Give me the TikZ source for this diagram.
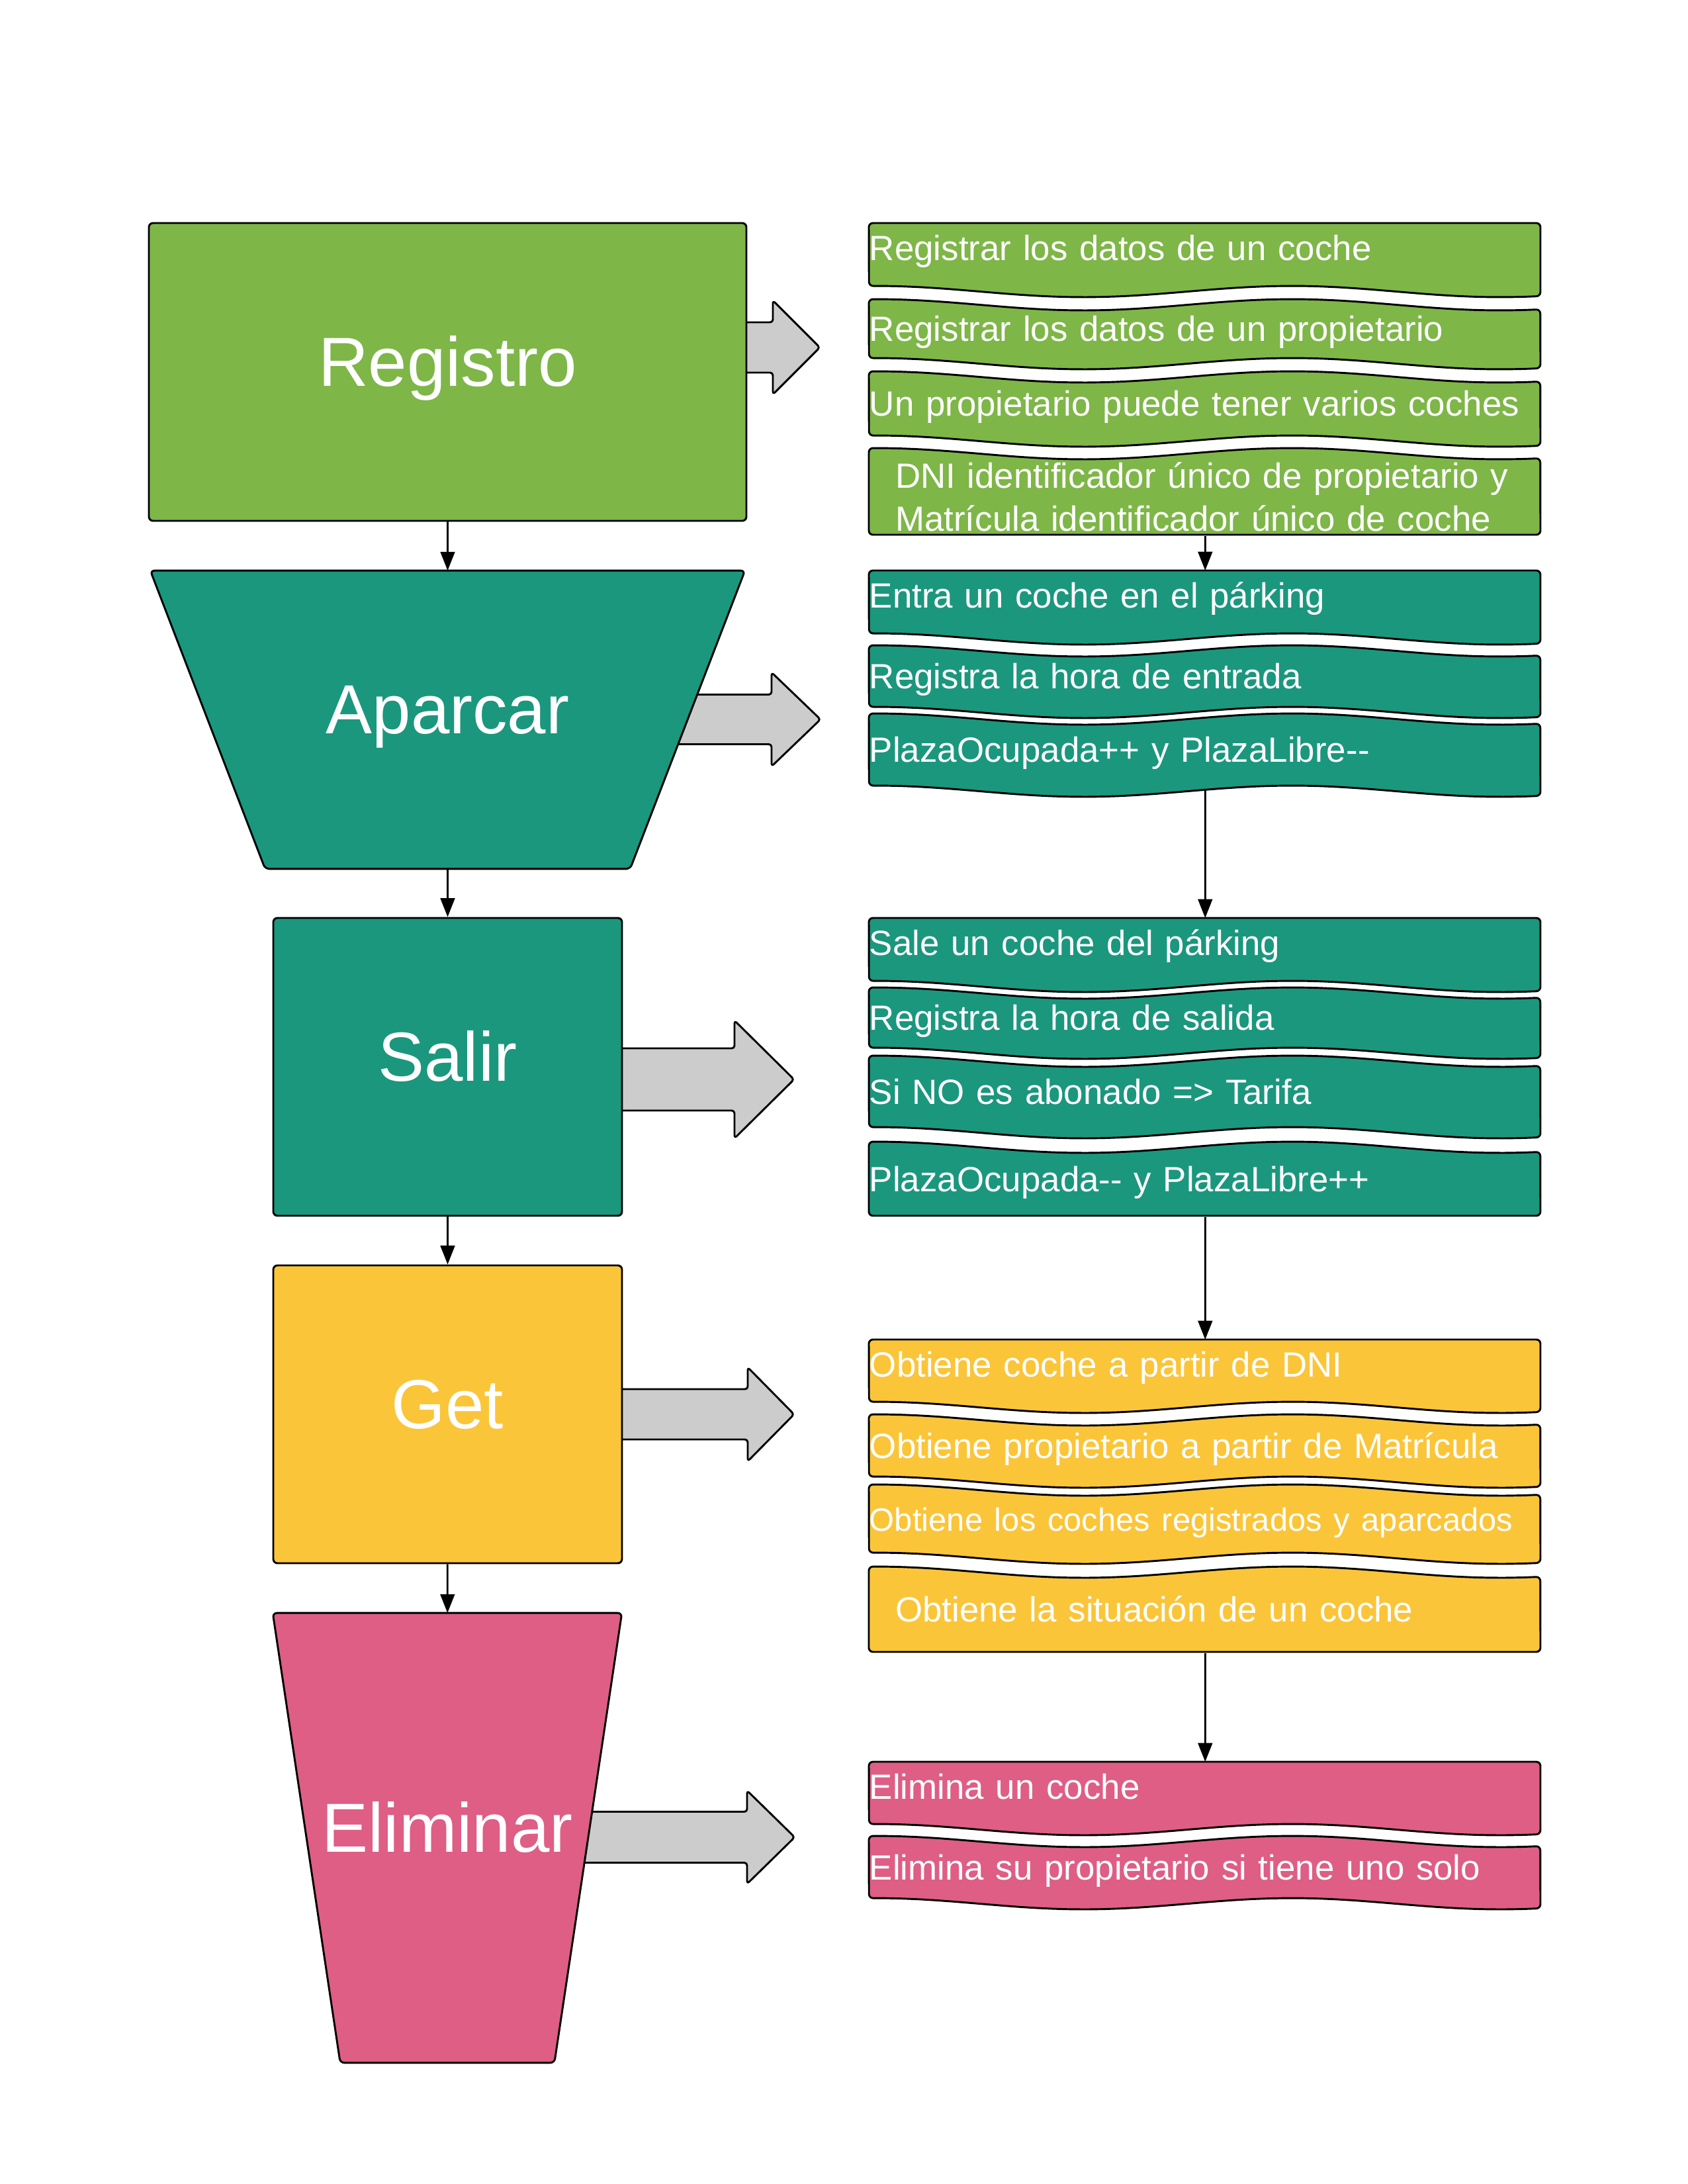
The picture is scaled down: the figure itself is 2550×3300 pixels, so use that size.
\documentclass[tikz,border=0pt]{standalone}
\usepackage{fontspec}
\setmainfont{Liberation Sans}
\usetikzlibrary{arrows.meta,backgrounds}

\definecolor{regcol}{RGB}{126,182,72}
\definecolor{parkcol}{RGB}{27,151,126}
\definecolor{getcol}{RGB}{251,197,58}
\definecolor{delcol}{RGB}{222,94,133}
\definecolor{arrowgrey}{RGB}{204,204,204}

% one pixel of the page
\newlength{\px}
\setlength{\px}{0.24pt}

\tikzset{
  bigbox/.style={draw, line width=0.7pt, rounded corners=1.5pt, text=white,
    font=\fontsize{25.2}{30}\selectfont, text height=18.9pt, text depth=8.8pt},
  bigtext/.style={text=white, inner sep=0pt, font=\fontsize{25.2}{30}\selectfont,
    text height=18.9pt, text depth=8.8pt},
  band/.style={draw=black, line width=0.7pt, rounded corners=1.5pt, line join=round},
  wavy/.style={domain=0:1, samples=41},
  bandtext/.style={anchor=north west, inner sep=0pt, minimum width=1015*\px,
    text width=1015*\px, align=left, text=white, font=\fontsize{12.7}{15.4}\selectfont,
    text height=9.5pt, text depth=5.4pt},
  link/.style={line width=0.65pt, -{Triangle[length=6.8pt,width=5.2pt]}},
  bigarrow/.style={draw=black, fill=arrowgrey, line width=0.7pt, rounded corners=1pt, line join=round}
}

% bands: colour, top, bottom
\newcommand{\docband}[3]{%
  \filldraw[band,fill=#1] (1313,#2) -- (2328,#2)
    -- plot[wavy] ({2328-\x*1015},{#3+8.5+8.5*cos(360*(0.68-\x)/0.62)}) -- cycle;}
\newcommand{\tapeband}[3]{%
  \filldraw[band,fill=#1] plot[wavy] ({1313+\x*1015},{#2+8.5+8.5*cos(360*(\x-0.32)/0.62)})
    -- plot[wavy] ({2328-\x*1015},{#3+8.5+8.5*cos(360*(0.68-\x)/0.62)}) -- cycle;}
\newcommand{\lastband}[3]{%
  \filldraw[band,fill=#1] plot[wavy] ({1313+\x*1015},{#2+8.5+8.5*cos(360*(\x-0.32)/0.62)})
    -- (2328,#3) -- (1313,#3) -- cycle;}
% funnel under a node: node, colour, inset of the bottom corners
\newcommand{\funnel}[3]{%
  \filldraw[band,fill=#2] (#1.north west) -- (#1.north east)
    -- ([xshift=-#3*\px]#1.south east) -- ([xshift=#3*\px]#1.south west) -- cycle;}
% grey arrow: start, centre, head base, tip, half shaft, half head
\newcommand{\blockarrow}[6]{%
  \filldraw[bigarrow] (#1,{#2-#5}) -- (#3,{#2-#5}) -- (#3,{#2-#6}) -- (#4,#2)
    -- (#3,{#2+#6}) -- (#3,{#2+#5}) -- (#1,{#2+#5}) -- cycle;}

\begin{document}
\begin{tikzpicture}[x=0.24pt, y=-0.24pt]
    \useasboundingbox (0,0) rectangle (2550,3300);

    % left column
    \node[bigbox, fill=regcol, minimum width=903*\px, minimum height=450*\px] (registro) at (676.5,562) {Registro};
    \node[bigtext, minimum width=897*\px, minimum height=449*\px] (aparcar) at (676.5,1087.5) {Aparcar};
    \node[bigbox, fill=parkcol, minimum width=527*\px, minimum height=450*\px] (salir) at (676.5,1612) {Salir};
    \node[bigbox, fill=getcol, minimum width=527*\px, minimum height=450*\px] (get) at (676.5,2137) {Get};
    \node[bigtext, minimum width=526*\px, minimum height=678*\px] (eliminar) at (676,2777) {Eliminar};

    % right column
    \docband{regcol}{337}{432}
    \tapeband{regcol}{452}{541}
    \tapeband{regcol}{561}{658}
    \lastband{regcol}{677}{808}

    \docband{parkcol}{862}{957}
    \tapeband{parkcol}{975}{1068}
    \tapeband{parkcol}{1078}{1187}

    \docband{parkcol}{1387}{1482}
    \tapeband{parkcol}{1492}{1583}
    \tapeband{parkcol}{1595}{1703}
    \lastband{parkcol}{1725}{1837}

    \docband{getcol}{2024}{2118}
    \tapeband{getcol}{2137}{2231}
    \tapeband{getcol}{2243}{2346}
    \lastband{getcol}{2367}{2496}

    \docband{delcol}{2662}{2756}
    \tapeband{delcol}{2774}{2868}

    \node[bandtext, minimum height=95*\px] (reg1) at (1313,337) {Registrar los datos de un coche};
    \node[bandtext, minimum height=69*\px] (reg2) at (1313,472) {Registrar los datos de un propietario};
    \node[bandtext, minimum height=77*\px] (reg3) at (1313,581) {Un propietario puede tener varios coches};
    \node[bandtext, minimum height=111*\px, text depth=16.9pt] (reg4) at (1313,697)
        {\hspace*{9.4pt}DNI identificador único de propietario y\\\hspace*{9.4pt}Matrícula identificador único de coche};

    \node[bandtext, minimum height=95*\px] (apa1) at (1313,862) {Entra un coche en el párking};
    \node[bandtext, minimum height=73*\px] (apa2) at (1313,995) {Registra la hora de entrada};
    \node[bandtext, minimum height=89*\px] (apa3) at (1313,1098) {PlazaOcupada++ y PlazaLibre-\kern0pt-};

    \node[bandtext, minimum height=95*\px] (sal1) at (1313,1387) {Sale un coche del párking};
    \node[bandtext, minimum height=71*\px] (sal2) at (1313,1512) {Registra la hora de salida};
    \node[bandtext, minimum height=88*\px] (sal3) at (1313,1615) {Si NO es abonado => Tarifa};
    \node[bandtext, minimum height=92*\px] (sal4) at (1313,1745) {PlazaOcupada-\kern0pt- y PlazaLibre++};

    \node[bandtext, minimum height=94*\px] (get1) at (1313,2024) {Obtiene coche a partir de DNI};
    \node[bandtext, minimum height=74*\px] (get2) at (1313,2157) {Obtiene propietario a partir de Matrícula};
    \node[bandtext, minimum height=83*\px] (get3) at (1313,2263)
        {\fontsize{11.75}{14}\selectfont Obtiene los coches registrados y aparcados};
    \node[bandtext, minimum height=109*\px] (get4) at (1313,2387) {\hspace*{9.4pt}Obtiene la situación de un coche};

    \node[bandtext, minimum height=94*\px] (eli1) at (1313,2662) {Elimina un coche};
    \node[bandtext, minimum height=74*\px] (eli2) at (1313,2794) {Elimina su propietario si tiene uno solo};

    \begin{scope}[on background layer]
        \blockarrow{1100}{525}{1168}{1239}{38}{71}
        \blockarrow{950}{1087}{1166}{1240}{37.5}{71}
        \blockarrow{900}{1631}{1110}{1200}{47}{89}
        \blockarrow{900}{2137}{1130}{1200}{38}{71}
        \blockarrow{850}{2776}{1129}{1201}{38.5}{70.5}

        \funnel{aparcar}{parkcol}{173.5}
        \funnel{eliminar}{delcol}{102}

        \draw[link] (registro) -- (aparcar);
        \draw[link] (aparcar) -- (salir);
        \draw[link] (salir) -- (get);
        \draw[link] (get) -- (eliminar);

        \draw[link] (reg4.south) -- (apa1.north);
        \draw[link] (apa3.south) -- (sal1.north);
        \draw[link] (sal4.south) -- (get1.north);
        \draw[link] (get4.south) -- (eli1.north);
    \end{scope}
\end{tikzpicture}
\end{document}
